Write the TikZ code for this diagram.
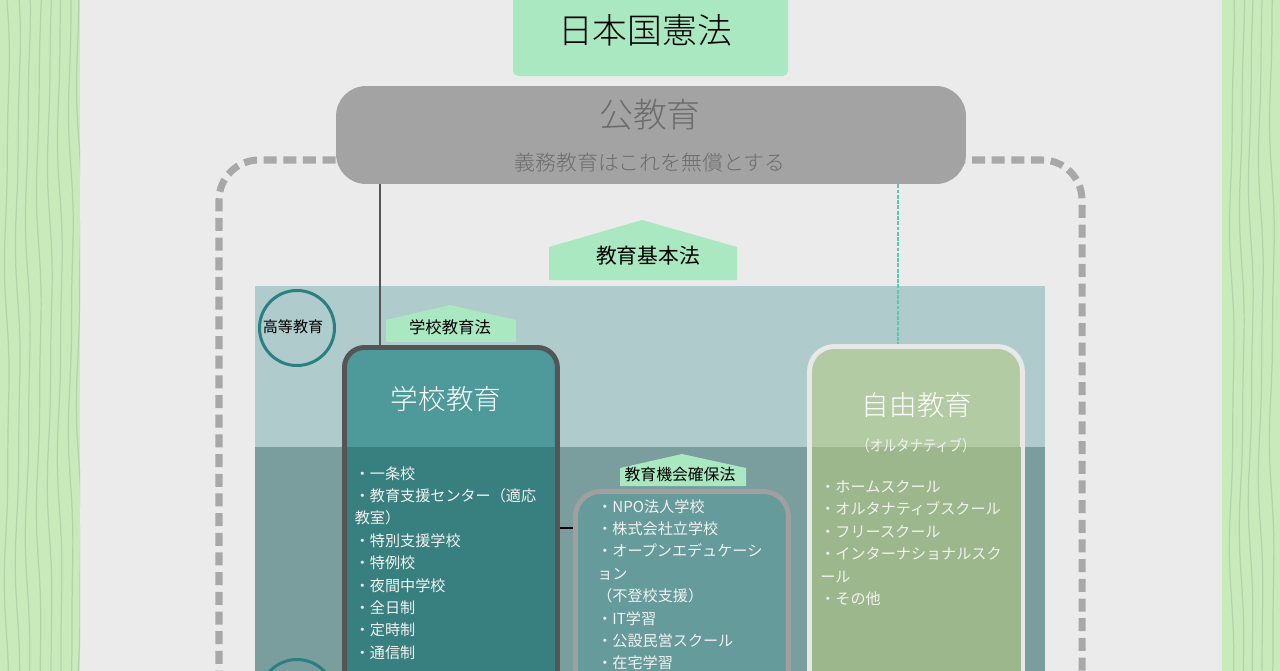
\documentclass[tikz,border=0pt]{standalone}
\usepackage{fontspec}
\setmainfont{Noto Sans CJK JP}
\newfontfamily\lightjp{Noto Sans CJK JP Light}
\usetikzlibrary{calc}

\definecolor{pagegray}{HTML}{EBEBEB}
\definecolor{stripegreen}{HTML}{C9EABB}
\definecolor{stripeline}{HTML}{B6D2AA}
\definecolor{lawgreen}{HTML}{A9E8C0}
\definecolor{pillgray}{HTML}{A3A3A3}
\definecolor{pilltext}{HTML}{6C6C6C}
\definecolor{dashgray}{HTML}{A8A8A8}
\definecolor{highband}{HTML}{B0CBCC}
\definecolor{lowband}{HTML}{7A9D9E}
\definecolor{circleteal}{HTML}{2A8080}
\definecolor{schoolhigh}{HTML}{4E9999}
\definecolor{schoollow}{HTML}{37807F}
\definecolor{schoolline}{HTML}{555555}
\definecolor{kakuhobox}{HTML}{659B9A}
\definecolor{kakuholine}{HTML}{A0A0A0}
\definecolor{freehigh}{HTML}{B2CBA2}
\definecolor{freelow}{HTML}{9DB78C}
\definecolor{freeline}{HTML}{E8E8E8}
\definecolor{dotteal}{HTML}{5CC8B4}
\definecolor{listwhite}{HTML}{F2F2F2}

\tikzset{
  eduBox/.style={anchor=north west, minimum width=4.26cm, minimum height=12cm, inner sep=0pt, line width=2.8pt},
  listText/.style={anchor=north west, align=left, inner sep=0pt, text=listwhite, font=\fontsize{8.6pt}{12.75pt}\selectfont},
  titleText/.style={text=white, inner sep=0pt, font=\lightjp\fontsize{15.7pt}{18pt}\selectfont},
  lawText/.style={text=black, inner sep=0pt},
  levelCircle/.style={circle, draw=circleteal, line width=1.7pt, minimum size=1.5cm, inner sep=0pt}
}

\begin{document}
\begin{tikzpicture}[x=0.02cm,y=-0.02cm]
\useasboundingbox (0,0) rectangle (1280,670);
\clip (-2,-2) rectangle (1282,674);

\fill[pagegray] (-2,-2) rectangle (1282,674);

% side stripes
\fill[stripegreen] (-2,-2) rectangle (80,674);
\fill[stripegreen] (1222,-2) rectangle (1282,674);
\begin{scope}
\clip (-2,-2) rectangle (80,674);
\foreach \xo/\ph in {7/0,18/20,28/50,39/80,50/110,60/140,71/170,79/200}
\draw[stripeline,line width=0.7pt] plot[smooth,domain=-10:680,samples=40,variable=\t] ({\xo+2*sin(\t*1.1+\ph)+0.8*sin(\t*2.3+2*\ph)},\t);
\end{scope}
\foreach \xo/\ph in {1232/40,1242/60,1251/90,1261/120,1272/160}
\draw[stripeline,line width=0.7pt] plot[smooth,domain=-10:680,samples=40,variable=\t] ({\xo+2*sin(\t*1.1+\ph)+0.8*sin(\t*2.3+2*\ph)},\t);

% outer dashed frame
\draw[dashgray,line width=4pt,dash pattern=on 7.4pt off 3.8pt,rounded corners=0.8cm] (219,900) -- (219,160) -- (1082,160) -- (1082,900);

% bands
\fill[highband] (255,286) rectangle (1045,447);
\fill[lowband] (255,447) rectangle (1045,674);
\node[levelCircle] (koutou) at (297,328) {};
\node[inner sep=0pt,font=\fontsize{8.6pt}{10pt}\selectfont] (koutoutext) at (293,327) {高等教育};
\node[levelCircle] (chutou) at (297,697) {};

% top boxes
\fill[lawgreen,rounded corners=3pt] (513,-20) rectangle (788,76);
\node[text=black,inner sep=0pt,font=\lightjp\fontsize{19.8pt}{24pt}\selectfont] (kenpou) at (645,30) {日本国憲法};
\node[fill=pillgray,rounded corners=0.6cm,minimum width=12.6cm,minimum height=1.96cm,inner sep=0pt] (koukyou) at (651,135) {};
\node[text=pilltext,inner sep=0pt,font=\lightjp\fontsize{19.3pt}{24pt}\selectfont] (koukyoutitle) at (650,115) {公教育};
\node[text=pilltext,inner sep=0pt,font=\lightjp\fontsize{11.9pt}{14pt}\selectfont] (koukyousub) at (650,163) {義務教育はこれを無償とする};

\fill[lawgreen] (549,247) -- (642,220) -- (737,247) -- (737,280) -- (549,280) -- cycle;
\node[lawText,font=\fontsize{11.8pt}{14pt}\selectfont] (kihonhou) at (648,256) {教育基本法};

% school box
\node[eduBox,draw=schoolline,fill=schoolhigh,rounded corners=0.4cm] (gakkou) at (342,345) {};
\fill[schoollow] (347,447) rectangle (555,674);
\node[titleText] (gakkoutitle) at (446,399) {学校教育};
\node[listText] (gakkoulist) at (354.5,466) {・一条校\\・教育支援センター（適応\\教室）\\・特別支援学校\\・特例校\\・夜間中学校\\・全日制\\・定時制\\・通信制};

\fill[lawgreen] (386,320) -- (450,305) -- (516,320) -- (516,342) -- (386,342) -- cycle;
\node[lawText,font=\fontsize{9.3pt}{11pt}\selectfont] (gakkouhou) at (450,327) {学校教育法};

% kakuho box
\node[eduBox,draw=kakuholine,fill=kakuhobox,rounded corners=0.5cm] (kakuho) at (573,489) {};
\node[listText] (kakuholist) at (597,499) {・NPO法人学校\\・株式会社立学校\\・オープンエデュケーシ\\ョン\\（不登校支援）\\・IT学習\\・公設民営スクール\\・在宅学習};

\fill[lawgreen] (620,468) -- (682,454) -- (746,468) -- (746,486) -- (620,486) -- cycle;
\node[lawText,font=\fontsize{9pt}{11pt}\selectfont] (kakuhohou) at (680,474) {教育機会確保法};

% free box
\node[eduBox,draw=freeline,fill=freehigh,rounded corners=0.5cm] (jiyuu) at (807,344) {};
\fill[freelow] (812,447) rectangle (1021,674);
\node[titleText] (jiyuutitle) at (917,405) {自由教育};
\node[text=listwhite,inner sep=0pt,font=\fontsize{8.8pt}{10pt}\selectfont] (jiyuusub) at (916,446) {\scalebox{0.86}[1]{（オルタナティブ）}};
\node[listText] (jiyuulist) at (820,480) {・ホームスクール\\・オルタナティブスクール\\・フリースクール\\・インターナショナルスク\\ール\\・その他};

% connectors
\draw[schoolline,line width=1.5pt] (koukyou.south -| 380,0) -- (gakkou.north -| 380,0);
\draw[dotteal,line width=1pt,dash pattern=on 2.2pt off 0.8pt] (koukyou.south -| 898,0) -- (jiyuu.north -| 898,0);
\draw[black,line width=1.1pt] (gakkou.east |- 0,528) -- (kakuho.west |- 0,528);

\end{tikzpicture}
\end{document}
